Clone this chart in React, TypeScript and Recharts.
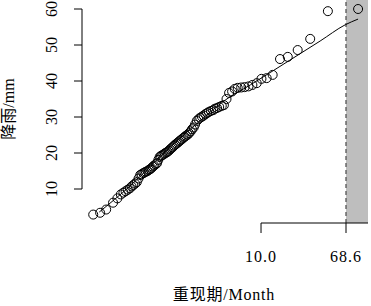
import {
  ComposedChart, Scatter, Line, XAxis, YAxis, ReferenceArea, ReferenceLine,
} from 'recharts';

// plotting position (Gumbel reduced variate) of each observation
const POS_X = [
  -1.64, -1.48, -1.34, -1.18, -1.08, -1.0, -0.94, -0.89, -0.84, -0.79,
  -0.75, -0.71, -0.67, -0.63, -0.59, -0.55, -0.52, -0.48, -0.45, -0.42,
  -0.38, -0.35, -0.32, -0.29, -0.26, -0.23, -0.19, -0.16, -0.13, -0.10,
  -0.07, -0.04, -0.01, 0.02, 0.05, 0.08, 0.11, 0.14, 0.17, 0.20,
  0.23, 0.26, 0.29, 0.32, 0.35, 0.38, 0.41, 0.45, 0.48, 0.51,
  0.55, 0.58, 0.62, 0.65, 0.69, 0.72, 0.76, 0.80, 0.84, 0.88,
  0.92, 0.96, 1.0, 1.04, 1.09, 1.14, 1.18, 1.23, 1.28, 1.34,
  1.39, 1.45, 1.51, 1.58, 1.64, 1.71, 1.79, 1.87, 1.96, 2.05,
  2.15, 2.26, 2.38, 2.52, 2.69, 2.87, 3.10, 3.39, 3.80, 4.50,
];
// rainfall (mm), sorted
const RAIN = [
  2.9, 3.4, 4.3, 6.2, 7.4, 8.5, 9.0, 9.4, 9.8, 10.2,
  10.7, 11.1, 11.5, 11.9, 12.9, 13.9, 14.1, 14.4, 14.6, 14.8,
  15.0, 15.3, 15.5, 15.8, 16.2, 16.5, 16.9, 17.2, 18.1, 18.9,
  19.2, 19.4, 19.6, 19.9, 20.1, 20.3, 20.6, 21.0, 21.3, 21.6,
  22.0, 22.3, 22.6, 22.9, 23.2, 23.5, 23.8, 24.2, 24.5, 24.8,
  25.1, 25.5, 26.0, 26.6, 27.1, 27.9, 28.9, 29.4, 29.8, 30.1,
  30.4, 30.8, 31.1, 31.4, 31.7, 31.9, 32.3, 32.5, 32.8, 33.1,
  33.3, 35.0, 36.7, 37.1, 37.8, 38.1, 38.2, 38.3, 38.5, 38.9,
  39.4, 40.6, 40.8, 41.7, 46.1, 46.7, 48.6, 51.7, 59.4, 60.0,
];
// fitted frequency curve
const FIT_X = [-1.5, -0.79, 0.0, 0.88, 1.42, 2.0, 2.92, 3.62, 4.2, 4.5];
const FIT_Y = [3.6, 10.8, 20.0, 29.4, 34.7, 38.9, 45.8, 51.1, 55.6, 57.2];

const TICK_POS = [2.25, 4.22];
const TICK_LABELS = ['10.0', '68.6'];
const Y_TICKS = [10, 20, 30, 40, 50, 60];
const DESIGN_POS = 4.22;

const X_DOMAIN: [number, number] = [-1.9, 4.73];
const Y_DOMAIN: [number, number] = [0.56, 62.5];

const points = POS_X.map((x, i) => ({ x, y: RAIN[i] }));
const fit = FIT_X.map((x, i) => ({ x, y: FIT_Y[i] }));

const FONT = "'Liberation Serif', 'Noto Sans CJK SC', serif";

const XTick = (p: any) => {
  const idx = TICK_POS.indexOf(p.payload.value);
  return (
    <text x={p.x} y={262} textAnchor="middle" fontFamily={FONT} fontSize={16} letterSpacing={1} fill="#000">
      {TICK_LABELS[idx] ?? p.payload.value}
    </text>
  );
};

const YTick = (p: any) => (
  <text x={57} y={p.y} transform={`rotate(-90, 57, ${p.y})`} textAnchor="middle"
    fontFamily={FONT} fontSize={16} fill="#000">
    {p.payload.value}
  </text>
);

const Circle = (p: any) => (
  <circle cx={p.cx} cy={p.cy} r={4.5} fill="none" stroke="#000" strokeWidth={1} />
);

export default function App() {
  return (
    <div style={{ position: 'absolute', left: 0, top: 0, width: 371, height: 306, background: '#fff' }}>
      <ComposedChart width={371} height={306} margin={{ top: 0, right: 3, left: 0, bottom: 0 }}>
        <XAxis
          type="number" dataKey="x" domain={X_DOMAIN} ticks={TICK_POS} allowDataOverflow
          axisLine={false} tickSize={10} tickLine={{ stroke: '#000' }} tick={<XTick />} height={83}
          interval={0}
          label={{
            content: () => (
              <text x={224} y={300} textAnchor="middle" fontFamily={FONT} fontSize={16} letterSpacing={0.8} fill="#000">
                重现期/Month
              </text>
            ),
          }}
        />
        <YAxis
          type="number" dataKey="y" domain={Y_DOMAIN} ticks={Y_TICKS} allowDataOverflow
          axisLine={false} tickSize={8} tickLine={{ stroke: '#000' }} tick={<YTick />} width={82}
          interval={0}
          label={{
            content: () => (
              <text x={14} y={109} transform="rotate(-90, 14, 109)" textAnchor="middle"
                fontFamily={FONT} fontSize={16} fill="#000">
                降雨/mm
              </text>
            ),
          }}
        />
        <ReferenceArea x1={DESIGN_POS} x2={X_DOMAIN[1]} y1={Y_DOMAIN[0]} y2={Y_DOMAIN[1]}
          fill="#bebebe" fillOpacity={1} stroke="none" ifOverflow="visible" />
        <ReferenceLine x={DESIGN_POS} stroke="#555" strokeDasharray="4 3" strokeWidth={1.3} />
        <ReferenceLine segment={[{ x: TICK_POS[0], y: Y_DOMAIN[0] }, { x: X_DOMAIN[1], y: Y_DOMAIN[0] }]}
          stroke="#000" ifOverflow="visible" />
        <ReferenceLine segment={[{ x: X_DOMAIN[0], y: 10 }, { x: X_DOMAIN[0], y: 60 }]}
          stroke="#000" ifOverflow="visible" />
        <Scatter data={points} dataKey="y" shape={<Circle />} isAnimationActive={false} />
        <Line data={fit} dataKey="y" type="monotone" stroke="#000" strokeWidth={1}
          dot={false} activeDot={false} isAnimationActive={false} />
      </ComposedChart>
    </div>
  );
}
